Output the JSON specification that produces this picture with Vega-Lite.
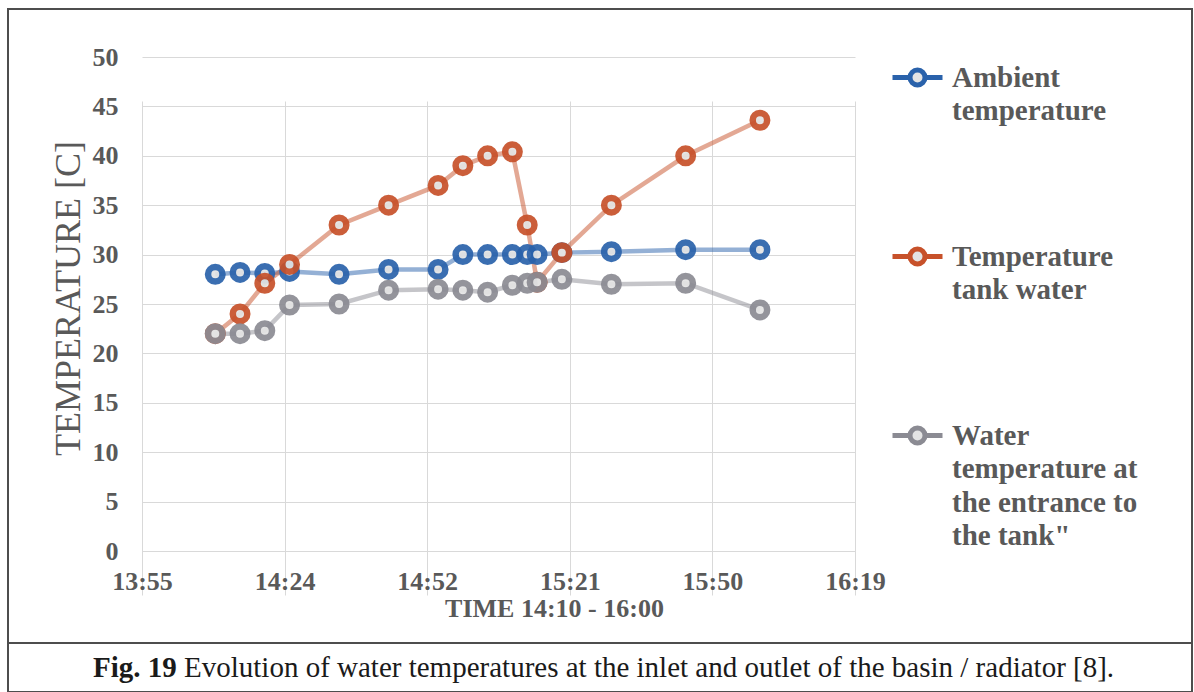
{
  "$schema": "https://vega.github.io/schema/vega-lite/v6.json",
  "autosize": {"type": "pad"},
  "padding": {"left": 7, "top": 8, "right": 0, "bottom": 0},
  "background": "white",
  "bounds": "flush",
  "spacing": 0,
  "config": {
    "font": "Liberation Serif",
    "axis": {
      "labelFont": "Liberation Serif",
      "labelFontWeight": "bold",
      "labelFontSize": 26,
      "labelColor": "#595959",
      "titleFont": "Liberation Serif",
      "titleColor": "#595959",
      "gridColor": "#d9d9d9",
      "gridWidth": 1,
      "domain": false,
      "ticks": false
    }
  },
  "vconcat": [
    {
      "width": 1184,
      "height": 634,
      "view": {"stroke": "#4d4d4d", "strokeWidth": 2, "fill": "white"},
      "data": {
        "values": [
          {"series": "Ambient temperature", "time": "2020-01-01T14:10:00", "temp": 28.0},
          {"series": "Ambient temperature", "time": "2020-01-01T14:15:00", "temp": 28.2},
          {"series": "Ambient temperature", "time": "2020-01-01T14:20:00", "temp": 28.1},
          {"series": "Ambient temperature", "time": "2020-01-01T14:25:00", "temp": 28.3},
          {"series": "Ambient temperature", "time": "2020-01-01T14:35:00", "temp": 28.0},
          {"series": "Ambient temperature", "time": "2020-01-01T14:45:00", "temp": 28.5},
          {"series": "Ambient temperature", "time": "2020-01-01T14:55:00", "temp": 28.5},
          {"series": "Ambient temperature", "time": "2020-01-01T15:00:00", "temp": 30.0},
          {"series": "Ambient temperature", "time": "2020-01-01T15:05:00", "temp": 30.0},
          {"series": "Ambient temperature", "time": "2020-01-01T15:10:00", "temp": 30.0},
          {"series": "Ambient temperature", "time": "2020-01-01T15:13:00", "temp": 30.0},
          {"series": "Ambient temperature", "time": "2020-01-01T15:15:00", "temp": 30.0},
          {"series": "Ambient temperature", "time": "2020-01-01T15:20:00", "temp": 30.2},
          {"series": "Ambient temperature", "time": "2020-01-01T15:30:00", "temp": 30.3},
          {"series": "Ambient temperature", "time": "2020-01-01T15:45:00", "temp": 30.5},
          {"series": "Ambient temperature", "time": "2020-01-01T16:00:00", "temp": 30.5},
          {"series": "Temperature tank water", "time": "2020-01-01T14:10:00", "temp": 22.0},
          {"series": "Temperature tank water", "time": "2020-01-01T14:15:00", "temp": 24.0},
          {"series": "Temperature tank water", "time": "2020-01-01T14:20:00", "temp": 27.1},
          {"series": "Temperature tank water", "time": "2020-01-01T14:25:00", "temp": 29.0},
          {"series": "Temperature tank water", "time": "2020-01-01T14:35:00", "temp": 33.0},
          {"series": "Temperature tank water", "time": "2020-01-01T14:45:00", "temp": 35.0},
          {"series": "Temperature tank water", "time": "2020-01-01T14:55:00", "temp": 37.0},
          {"series": "Temperature tank water", "time": "2020-01-01T15:00:00", "temp": 39.0},
          {"series": "Temperature tank water", "time": "2020-01-01T15:05:00", "temp": 40.0},
          {"series": "Temperature tank water", "time": "2020-01-01T15:10:00", "temp": 40.4},
          {"series": "Temperature tank water", "time": "2020-01-01T15:13:00", "temp": 33.0},
          {"series": "Temperature tank water", "time": "2020-01-01T15:15:00", "temp": 27.2},
          {"series": "Temperature tank water", "time": "2020-01-01T15:20:00", "temp": 30.2},
          {"series": "Temperature tank water", "time": "2020-01-01T15:30:00", "temp": 35.0},
          {"series": "Temperature tank water", "time": "2020-01-01T15:45:00", "temp": 40.0},
          {"series": "Temperature tank water", "time": "2020-01-01T16:00:00", "temp": 43.6},
          {"series": "Water temperature at the entrance to the tank\"", "time": "2020-01-01T14:10:00", "temp": 22.0},
          {"series": "Water temperature at the entrance to the tank\"", "time": "2020-01-01T14:15:00", "temp": 22.0},
          {"series": "Water temperature at the entrance to the tank\"", "time": "2020-01-01T14:20:00", "temp": 22.3},
          {"series": "Water temperature at the entrance to the tank\"", "time": "2020-01-01T14:25:00", "temp": 24.9},
          {"series": "Water temperature at the entrance to the tank\"", "time": "2020-01-01T14:35:00", "temp": 25.0},
          {"series": "Water temperature at the entrance to the tank\"", "time": "2020-01-01T14:45:00", "temp": 26.4},
          {"series": "Water temperature at the entrance to the tank\"", "time": "2020-01-01T14:55:00", "temp": 26.5},
          {"series": "Water temperature at the entrance to the tank\"", "time": "2020-01-01T15:00:00", "temp": 26.4},
          {"series": "Water temperature at the entrance to the tank\"", "time": "2020-01-01T15:05:00", "temp": 26.2},
          {"series": "Water temperature at the entrance to the tank\"", "time": "2020-01-01T15:10:00", "temp": 26.9},
          {"series": "Water temperature at the entrance to the tank\"", "time": "2020-01-01T15:13:00", "temp": 27.1},
          {"series": "Water temperature at the entrance to the tank\"", "time": "2020-01-01T15:15:00", "temp": 27.2},
          {"series": "Water temperature at the entrance to the tank\"", "time": "2020-01-01T15:20:00", "temp": 27.5},
          {"series": "Water temperature at the entrance to the tank\"", "time": "2020-01-01T15:30:00", "temp": 27.0},
          {"series": "Water temperature at the entrance to the tank\"", "time": "2020-01-01T15:45:00", "temp": 27.1},
          {"series": "Water temperature at the entrance to the tank\"", "time": "2020-01-01T16:00:00", "temp": 24.4}
        ]
      },
      "encoding": {
        "x": {
          "field": "time",
          "type": "temporal",
          "scale": {
            "domain": [
              {"year": 2020, "month": 1, "date": 1, "hours": 13, "minutes": 55, "seconds": 12},
              {"year": 2020, "month": 1, "date": 1, "hours": 16, "minutes": 19, "seconds": 12}
            ],
            "range": [134, 847],
            "nice": false
          },
          "axis": {
            "values": [
              {"year": 2020, "month": 1, "date": 1, "hours": 13, "minutes": 55, "seconds": 12},
              {"year": 2020, "month": 1, "date": 1, "hours": 14, "minutes": 24, "seconds": 0},
              {"year": 2020, "month": 1, "date": 1, "hours": 14, "minutes": 52, "seconds": 48},
              {"year": 2020, "month": 1, "date": 1, "hours": 15, "minutes": 21, "seconds": 36},
              {"year": 2020, "month": 1, "date": 1, "hours": 15, "minutes": 50, "seconds": 24},
              {"year": 2020, "month": 1, "date": 1, "hours": 16, "minutes": 19, "seconds": 12}
            ],
            "format": "%H:%M",
            "offset": -92,
            "grid": true,
            "labelFlush": false,
            "labelOverlap": false,
            "labelPadding": 30,
            "labelBaseline": "middle",
            "title": "TIME 14:10 - 16:00",
            "titleFontSize": 26,
            "titleFontWeight": "bold",
            "titleX": 546,
            "titleY": 57,
            "titleAlign": "center",
            "titleBaseline": "middle"
          }
        },
        "y": {
          "field": "temp",
          "type": "quantitative",
          "scale": {"domain": [0, 50], "range": [542, 48], "nice": false, "zero": false},
          "axis": {
            "values": [0, 5, 10, 15, 20, 25, 30, 35, 40, 45, 50],
            "offset": -134,
            "grid": true,
            "labelPadding": 24,
            "labelOverlap": false,
            "title": "TEMPERATURE [C]",
            "titleFontSize": 36,
            "titleFontWeight": "normal",
            "titleAngle": -90,
            "titleX": -74,
            "titleY": 289,
            "titleAlign": "center",
            "titleBaseline": "middle"
          }
        },
        "stroke": {
          "field": "series",
          "type": "nominal",
          "scale": {
            "domain": ["Ambient temperature", "Temperature tank water", "Water temperature at the entrance to the tank\""],
            "range": ["#2a62ab", "#c7512a", "#8b8b93"]
          },
          "legend": {
            "orient": "none",
            "legendX": 882,
            "legendY": 41,
            "title": null,
            "padding": 0,
            "symbolType": "M-1,0H-0.3M0.3,0H1M0.3,0A0.3,0.3 0 1,1 -0.3,0A0.3,0.3 0 1,1 0.3,0Z",
            "symbolSize": 2500,
            "symbolStrokeWidth": 5,
            "symbolOpacity": 1,
            "symbolFillColor": "#e4e4e4",
            "labelFont": "Liberation Serif",
            "labelFontWeight": "bold",
            "labelFontSize": 29,
            "labelColor": "#595959",
            "labelLimit": 0,
            "labelOffset": 7,
            "labelBaseline": "alphabetic",
            "rowPadding": 103,
            "labelExpr": "datum.label == 'Ambient temperature' ? ['Ambient', 'temperature'] : datum.label == 'Temperature tank water' ? ['Temperature', 'tank water'] : ['Water', 'temperature at', 'the entrance to', 'the tank\"']",
            "encode": {
              "labels": {"update": {"lineHeight": {"value": 33.5}, "dy": {"value": 9}}},
              "symbols": {"update": {"opacity": {"value": 1}}}
            }
          }
        }
      },
      "layer": [
        {"mark": {"type": "line", "strokeWidth": 4.5, "opacity": 0.5}},
        {"mark": {"type": "point", "shape": "circle", "size": 210, "strokeWidth": 6.5, "fill": "#e4e4e4", "opacity": 0.92}}
      ]
    },
    {
      "width": 1184,
      "height": 49,
      "view": {"stroke": "#4d4d4d", "strokeWidth": 2, "fill": "white"},
      "data": {
        "values": [
          {"kind": "figure", "part": "Fig. 19"},
          {"kind": "caption", "part": "Evolution of water temperatures at the inlet and outlet of the basin / radiator [8]."}
        ]
      },
      "layer": [
        {
          "transform": [{"filter": "datum.kind == 'figure'"}],
          "mark": {"type": "text", "align": "left", "baseline": "middle", "dx": -507, "font": "Liberation Serif", "fontWeight": "bold", "fontSize": 29, "color": "#1a1a1a"},
          "encoding": {"text": {"field": "part", "type": "nominal"}}
        },
        {
          "transform": [{"filter": "datum.kind == 'caption'"}],
          "mark": {"type": "text", "align": "left", "baseline": "middle", "dx": -416, "font": "Liberation Serif", "fontWeight": "normal", "fontSize": 29, "color": "#1a1a1a"},
          "encoding": {"text": {"field": "part", "type": "nominal"}}
        }
      ]
    }
  ]
}
